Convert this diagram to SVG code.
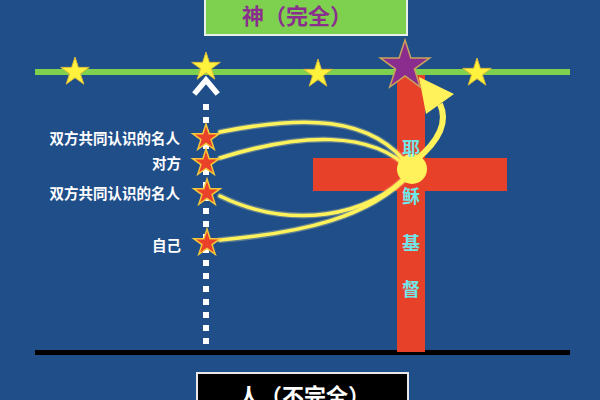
<svg xmlns="http://www.w3.org/2000/svg" width="600" height="400" viewBox="0 0 600 400">
<defs>
<style>
.lbl{font-family:"Noto Sans CJK SC","Noto Sans",sans-serif;font-size:14.5px;font-weight:700;fill:#ffffff;text-anchor:end;dominant-baseline:central}
.jc{font-family:"Noto Sans CJK SC","Noto Sans",sans-serif;font-size:18px;font-weight:700;fill:#6fe6e8;text-anchor:middle;dominant-baseline:central}
.hd{font-family:"Noto Sans CJK SC","Noto Sans",sans-serif;font-size:22px;font-weight:700}
.curve{fill:none;stroke:#fff25a;stroke-width:3.5;stroke-linecap:round}
.glow{fill:none;stroke:#fff7a0;stroke-opacity:0.3;stroke-width:6;stroke-linecap:round}
.ys{fill:#fff23c;stroke:#d9b93a;stroke-width:1}
.rs{fill:#e9412a;stroke:#f3c83a;stroke-width:1.5}
</style>
<polygon id="ystar" points="0,-15 3.37,-4.64 14.27,-4.64 5.45,1.77 8.82,12.14 0,5.73 -8.82,12.14 -5.45,1.77 -14.27,-4.64 -3.37,-4.64"/>
<polygon id="rstar" points="0,-14 3.14,-4.33 13.31,-4.33 5.08,1.65 8.23,11.33 0,5.35 -8.23,11.33 -5.08,1.65 -13.31,-4.33 -3.14,-4.33"/>
</defs>
<rect width="600" height="400" fill="#1f4e89"/>
<g id="god">
<rect x="205" y="-4" width="202" height="39" fill="#7ed04f" stroke="#e8efe8" stroke-width="2"/>
<text class="hd" x="242" y="24" fill="#8a2f8e">神（完全）</text>
</g>
<g id="heaven-line">
<rect x="35" y="69" width="535" height="6" fill="#7ed04f"/>
</g>
<g id="man-line">
<rect x="35" y="350" width="535" height="5" fill="#000000"/>
</g>
<g id="cross">
<rect x="397" y="75" width="28" height="277" fill="#e8412a"/>
<rect x="313" y="158" width="194" height="33" fill="#e8412a"/>
</g>
<g id="yellow-stars">
<use href="#ystar" x="75" y="72" class="ys"/>
<use href="#ystar" x="206" y="67" class="ys"/>
<use href="#ystar" x="318" y="74" class="ys"/>
<use href="#ystar" x="477" y="73" class="ys"/>
</g>
<g id="connectors">
<g id="dotted">
<line x1="206" y1="104" x2="206" y2="346" stroke="#ffffff" stroke-width="6" stroke-dasharray="6 7"/>
<polyline points="196,92 206,80 216,92" fill="none" stroke="#ffffff" stroke-width="5.5" stroke-linecap="square"/>
</g>
<path class="glow" d="M 220 132 C 300 116, 372 114, 410 168"/>
<path class="glow" d="M 220 158 C 300 133, 372 130, 410 170"/>
<path class="glow" d="M 220 196 C 290 230, 370 218, 410 172"/>
<path class="glow" d="M 220 240 C 300 233, 370 218, 410 174"/>
<path class="curve" d="M 220 132 C 300 116, 372 114, 410 168"/>
<path class="curve" d="M 220 158 C 300 133, 372 130, 410 170"/>
<path class="curve" d="M 220 196 C 290 230, 370 218, 410 172"/>
<path class="curve" d="M 220 240 C 300 233, 370 218, 410 174"/>
<path d="M 416 160 Q 452 130 440 104" fill="none" stroke="#fff25a" stroke-width="6"/>
<polygon points="419,77 454,94 426,114" fill="#fff25a"/>
</g>
<g id="jesus">
<circle cx="412" cy="169" r="15" fill="#fff25a"/>
<text class="jc" x="411" y="147">耶</text>
<text class="jc" x="411" y="195">稣</text>
<text class="jc" x="411" y="242">基</text>
<text class="jc" x="411" y="288">督</text>
</g>
<g id="purple-star">
<polygon transform="translate(405,66)" points="0,-26 5.84,-8.03 24.73,-8.03 9.44,3.07 15.28,21.03 0,9.93 -15.28,21.03 -9.44,3.07 -24.73,-8.03 -5.84,-8.03" fill="#8b2c8f" stroke="#c9a35a" stroke-width="1.5"/>
</g>
<g id="celebrity1">
<use href="#rstar" x="206" y="138" class="rs"/>
<text class="lbl" x="180" y="137">双方共同认识的名人</text>
</g>
<g id="other">
<use href="#rstar" x="206" y="163" class="rs"/>
<text class="lbl" x="181" y="162">对方</text>
</g>
<g id="celebrity2">
<use href="#rstar" x="207" y="193" class="rs"/>
<text class="lbl" x="180" y="192">双方共同认识的名人</text>
</g>
<g id="self">
<use href="#rstar" x="207" y="243" class="rs"/>
<text class="lbl" x="181" y="244">自己</text>
</g>
<g id="man">
<rect x="197" y="373" width="211" height="32" fill="#000000" stroke="#e8e8e8" stroke-width="2"/>
<text class="hd" x="238" y="404" fill="#ffffff">人（不完全）</text>
</g>
</svg>
